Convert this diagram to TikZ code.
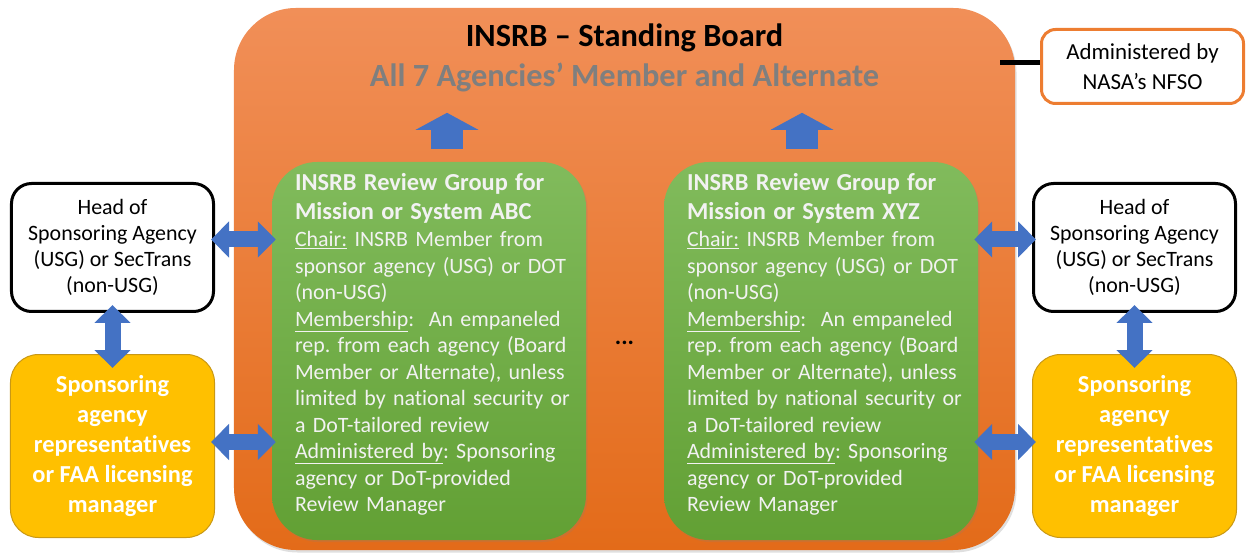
\documentclass[tikz,border=0pt]{standalone}
\usepackage{fontspec}
\setmainfont{Carlito}[Ligatures={TeX,NoCommon}]
\usepackage{xcolor}
\usetikzlibrary{arrows.meta,positioning,shadows}
\definecolor{boardTop}{RGB}{241,143,88}
\definecolor{boardMid}{RGB}{244,128,50}
\definecolor{boardBot}{RGB}{227,107,25}
\definecolor{groupTop}{RGB}{129,187,92}
\definecolor{groupBot}{RGB}{98,160,52}
\definecolor{groupInk}{RGB}{242,242,242}
\definecolor{arrowBlue}{RGB}{68,114,196}
\definecolor{sponsorGold}{RGB}{255,192,0}
\definecolor{sponsorEdge}{RGB}{201,152,20}
\definecolor{adminOrange}{RGB}{237,125,49}
\definecolor{membersGrey}{RGB}{127,127,127}
\frenchspacing
\tikzset{%
  % Specifications for style of nodes:
        board/.style = {rectangle, rounded corners=62bp,
                        top color=boardTop, middle color=boardMid,
                        bottom color=boardBot,
                        minimum width=781bp, minimum height=542bp,
                        drop shadow={opacity=0.25, shadow xshift=1.5bp,
                                     shadow yshift=-2.5bp}},
  reviewGroup/.style = {rectangle, rounded corners=45bp,
                        top color=groupTop, bottom color=groupBot,
                        minimum width=314bp, minimum height=378bp,
                        drop shadow={opacity=0.2, shadow xshift=1.5bp,
                                     shadow yshift=-2bp}},
    groupText/.style = {anchor=north west, inner sep=0pt, align=left,
                        text width=285bp, text=groupInk,
                        font=\fontsize{22}{26.6}\selectfont},
      headBox/.style = {rectangle, rounded corners=20bp, draw=black,
                        line width=3bp, fill=white,
                        minimum width=202bp, minimum height=128bp,
                        align=center, font=\fontsize{22}{26.3}\selectfont},
   sponsorBox/.style = {rectangle, rounded corners=28bp, draw=sponsorEdge,
                        line width=1bp, fill=sponsorGold,
                        minimum width=204bp, minimum height=183bp,
                        align=center, text=white,
                        font=\bfseries\fontsize{24.5}{30.2}\selectfont},
     adminBox/.style = {rectangle, rounded corners=14bp, draw=adminOrange,
                        line width=3bp, fill=white,
                        minimum width=202bp, minimum height=74bp,
                        align=center, font=\fontsize{23}{30}\selectfont},
    linkArrow/.style = {arrowBlue, line width=16bp,
                        {Triangle[width=35bp,length=18bp]}-{Triangle[width=35bp,length=18bp]},
                        shorten <=-4bp, shorten >=-4bp},
      upArrow/.style = {arrowBlue, line width=32bp,
                        -{Triangle[width=62bp,length=17bp]}},
    adminLink/.style = {black, line width=5bp},
}
\begin{document}
\begin{tikzpicture}[x=1bp, y=-1bp]
  \useasboundingbox (0,0) rectangle (1247,557);
  % Specification of nodes (position, etc.)
  \node (board) [board] at (624.5,279) {};
  \node (title) [font=\bfseries\fontsize{32.5}{39}\selectfont]
        at (624.5,38) {INSRB -- Standing Board};
  \node (members) [text=membersGrey, font=\bfseries\fontsize{32.5}{39}\selectfont]
        at (624.5,77) {All 7 Agencies’ Member and Alternate};
  \node (admin) [adminBox] at (1142.5,66.5) {Administered by\\NASA’s NFSO};

  \node (groupA) [reviewGroup] at (429,351) {};
  \node (groupB) [reviewGroup] at (821,351) {};
  \node (dots) [font=\bfseries\fontsize{24}{28}\selectfont] at (624.5,343) {...};

  \node (groupAtext) [groupText] at ([shift={(23,11)}]groupA.north west)
    {\textbf{\fontsize{24.5}{29}\selectfont INSRB Review Group for}\\[2.4bp]
     \textbf{\fontsize{24.5}{29}\selectfont Mission or System ABC}\\[1bp]
     \underline{Chair:} INSRB Member from\\
     sponsor agency (USG) or DOT\\
     (non-USG)\\
     \underline{Membership}:\ \ An empaneled\\
     rep. from each agency (Board\\
     Member or Alternate), unless\\
     limited by national security or\\
     a DoT-tailored review\\
     \underline{Administered by}: Sponsoring\\
     agency or DoT-provided\\
     Review Manager};
  \node (groupBtext) [groupText] at ([shift={(23,11)}]groupB.north west)
    {\textbf{\fontsize{24.5}{29}\selectfont INSRB Review Group for}\\[2.4bp]
     \textbf{\fontsize{24.5}{29}\selectfont Mission or System XYZ}\\[1bp]
     \underline{Chair:} INSRB Member from\\
     sponsor agency (USG) or DOT\\
     (non-USG)\\
     \underline{Membership}:\ \ An empaneled\\
     rep. from each agency (Board\\
     Member or Alternate), unless\\
     limited by national security or\\
     a DoT-tailored review\\
     \underline{Administered by}: Sponsoring\\
     agency or DoT-provided\\
     Review Manager};

  \node (headL) [headBox] at (112.5,247.5)
    {Head of\\Sponsoring Agency\\(USG) or SecTrans\\(non-USG)};
  \node (sponsorL) [sponsorBox, below=41bp of headL]
    {Sponsoring\\agency\\representatives\\or FAA licensing\\manager};
  \node (headR) [headBox] at (1134.5,247.5)
    {Head of\\Sponsoring Agency\\(USG) or SecTrans\\(non-USG)};
  \node (sponsorR) [sponsorBox, below=41bp of headR]
    {Sponsoring\\agency\\representatives\\or FAA licensing\\manager};

  % Specification of lines between nodes specified above
  \draw[upArrow] ([shift={(18,-13)}]groupA.north) -- ++(0,-36);
  \draw[upArrow] ([shift={(-19,-13)}]groupB.north) -- ++(0,-36);
  \draw[adminLink] ([yshift=4bp]admin.west) -- ([yshift=4bp,xshift=-15bp]admin.west -| board.east);

  \draw[linkArrow] ([yshift=8bp]headL.east) -- ([yshift=8bp]headL.east -| groupA.west);
  \draw[linkArrow] ([yshift=4bp]sponsorL.east) -- ([yshift=4bp]sponsorL.east -| groupA.west);
  \draw[linkArrow, shorten <=-8bp, shorten >=-14bp] (headL.south) -- (sponsorL.north);
  \draw[linkArrow] ([yshift=8bp]headR.west) -- ([yshift=8bp]headR.west -| groupB.east);
  \draw[linkArrow] ([yshift=4bp]sponsorR.west) -- ([yshift=4bp]sponsorR.west -| groupB.east);
  \draw[linkArrow, shorten <=-8bp, shorten >=-14bp] (headR.south) -- (sponsorR.north);
\end{tikzpicture}
\end{document}
